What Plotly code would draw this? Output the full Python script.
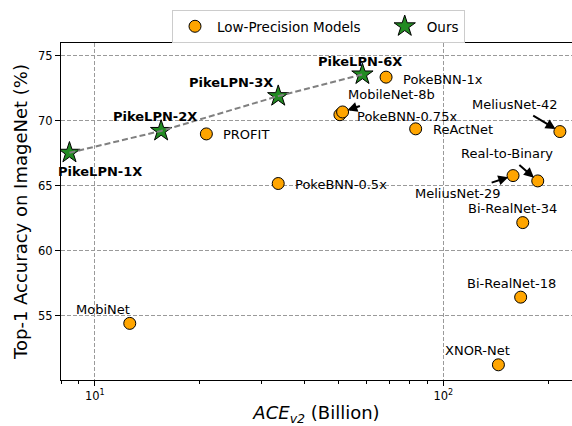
import math
import plotly.graph_objects as go

# ---------------- data ----------------
low_names = ["PROFIT", "PokeBNN-0.5x", "PokeBNN-0.75x", "MobileNet-8b", "PokeBNN-1x",
             "ReActNet", "MeliusNet-29", "Real-to-Binary", "MeliusNet-42",
             "Bi-RealNet-34", "Bi-RealNet-18", "XNOR-Net", "MobiNet"]
low_ace = [20.9, 33.6, 50.5, 51.4, 68.5, 83.3, 158.5, 186.6, 216.0, 169.0, 166.7, 143.9, 12.6]
low_acc = [69.0, 65.18, 70.48, 70.69, 73.37, 69.39, 65.79, 65.38, 69.18, 62.17, 56.43, 51.22, 54.41]

our_names = ["PikeLPN-1X", "PikeLPN-2X", "PikeLPN-3X", "PikeLPN-6X"]
our_ace = [8.46, 15.5, 33.6, 58.6]
our_acc = [67.55, 69.23, 71.91, 73.58]

x_tick_vals = [10, 100]
x_tick_text = ["10<sup>1</sup>", "10<sup>2</sup>"]
y_tick_vals = [55, 60, 65, 70, 75]

# ---------------- label styles (pixel offsets from the point) ----------------
# name: (xanchor, xshift, yshift)
plain_label_style = {
    "PROFIT": ("left", 15, -1),
    "PokeBNN-0.5x": ("left", 15, -1),
    "PokeBNN-0.75x": ("left", 15.5, -1.5),
    "PokeBNN-1x": ("left", 15, -2),
    "ReActNet": ("left", 15, -1),
    "Bi-RealNet-34": ("center", -10, 14),
    "Bi-RealNet-18": ("center", -9, 14),
    "XNOR-Net": ("center", -21, 14),
    "MobiNet": ("center", -27, 14),
}
# name: (label centre offset ax, ay in screen pixels; arrow drawn from label to point)
arrow_label_style = {
    "MobileNet-8b": (49, -17),
    "MeliusNet-42": (-45, -27),
    "Real-to-Binary": (-31, -27),
    "MeliusNet-29": (-55, 18),
}
our_label_style = {
    "PikeLPN-1X": ("left", -13, -19),
    "PikeLPN-2X": ("center", -6, 14),
    "PikeLPN-3X": ("center", -47, 14),
    "PikeLPN-6X": ("center", -2, 13),
}

FONT = "DejaVu Sans"
NBSP = "\u00a0"

fig = go.Figure()

fig.add_trace(go.Scatter(
    x=low_ace, y=low_acc, mode="markers", name="Low-Precision Models" + NBSP * 4,
    marker=dict(symbol="circle", size=12, color="#FFA500",
                line=dict(color="black", width=1)),
))
fig.add_trace(go.Scatter(
    x=our_ace, y=our_acc, mode="markers", name="Ours",
    marker=dict(symbol="star", size=16, color="#228B22",
                line=dict(color="black", width=1)),
))
fig.add_trace(go.Scatter(
    x=our_ace, y=our_acc, mode="lines",
    line=dict(color="#808080", width=2, dash="6px,3px"),
    showlegend=False, hoverinfo="skip",
))

annotations = []
for name, xv, yv in zip(low_names, low_ace, low_acc):
    if name in plain_label_style:
        xa, xs, ys = plain_label_style[name]
        annotations.append(dict(
            x=math.log10(xv), y=yv, xref="x", yref="y", text=name, showarrow=False,
            xanchor=xa, yanchor="middle", xshift=xs, yshift=ys,
            font=dict(family=FONT, size=13, color="black"),
        ))
    elif name in arrow_label_style:
        ax, ay = arrow_label_style[name]
        annotations.append(dict(
            x=math.log10(xv), y=yv, xref="x", yref="y", text=name, showarrow=True,
            ax=ax, ay=ay, axref="pixel", ayref="pixel",
            arrowhead=2, arrowsize=1, arrowwidth=2, arrowcolor="black", standoff=5,
            borderpad=3,
            font=dict(family=FONT, size=13, color="black"),
        ))

for name, xv, yv in zip(our_names, our_ace, our_acc):
    xa, xs, ys = our_label_style[name]
    annotations.append(dict(
        x=math.log10(xv), y=yv, xref="x", yref="y", text="<b>" + name + "</b>",
        showarrow=False, xanchor=xa, yanchor="middle", xshift=xs, yshift=ys,
        font=dict(family=FONT, size=13, color="black"),
    ))

fig.update_layout(
    width=572, height=426,
    margin=dict(l=61, r=0, t=41, b=46),
    paper_bgcolor="white", plot_bgcolor="white",
    font=dict(family=FONT, size=12, color="black"),
    showlegend=True,
    legend=dict(
        orientation="h", xref="container", yref="container",
        x=172 / 572, xanchor="left", y=1 - 10 / 426, yanchor="top",
        bordercolor="#cccccc", borderwidth=1, bgcolor="white",
        itemwidth=34,
        font=dict(family=FONT, size=13.5, color="black"),
    ),
    annotations=annotations,
)

fig.update_xaxes(
    type="log", range=[math.log10(8), 2.3692], automargin=False,
    tickvals=x_tick_vals, ticktext=x_tick_text,
    ticks="outside", ticklen=5, tickwidth=1, tickcolor="black",
    tickfont=dict(family=FONT, size=11.5, color="black"),
    showline=True, linecolor="black", linewidth=1, mirror=True,
    showgrid=True, gridcolor="#9a9a9a", gridwidth=1, griddash="4px,2px",
    minor=dict(ticks="outside", ticklen=3, tickcolor="black", showgrid=False,
               tickvals=[8, 9, 20, 30, 40, 50, 60, 70, 80, 90, 200]),
    zeroline=False,
    title=dict(text="<i>ACE</i><sub><i>v2</i></sub> (Billion)",
               font=dict(family=FONT, size=18, color="black"), standoff=7),
)
fig.update_yaxes(
    range=[50.05, 76.0], automargin=False,
    tickvals=y_tick_vals,
    ticks="outside", ticklen=5, tickwidth=1, tickcolor="black",
    tickfont=dict(family=FONT, size=11.5, color="black"),
    showline=True, linecolor="black", linewidth=1, mirror=False,
    showgrid=True, gridcolor="#9a9a9a", gridwidth=1, griddash="4px,2px",
    zeroline=False,
    title=dict(text="Top-1 Accuracy on ImageNet (%)",
               font=dict(family=FONT, size=18, color="black"), standoff=5),
)

fig.write_html("out.html", config={"displayModeBar": False},
               post_script="document.body.style.margin='0';")
